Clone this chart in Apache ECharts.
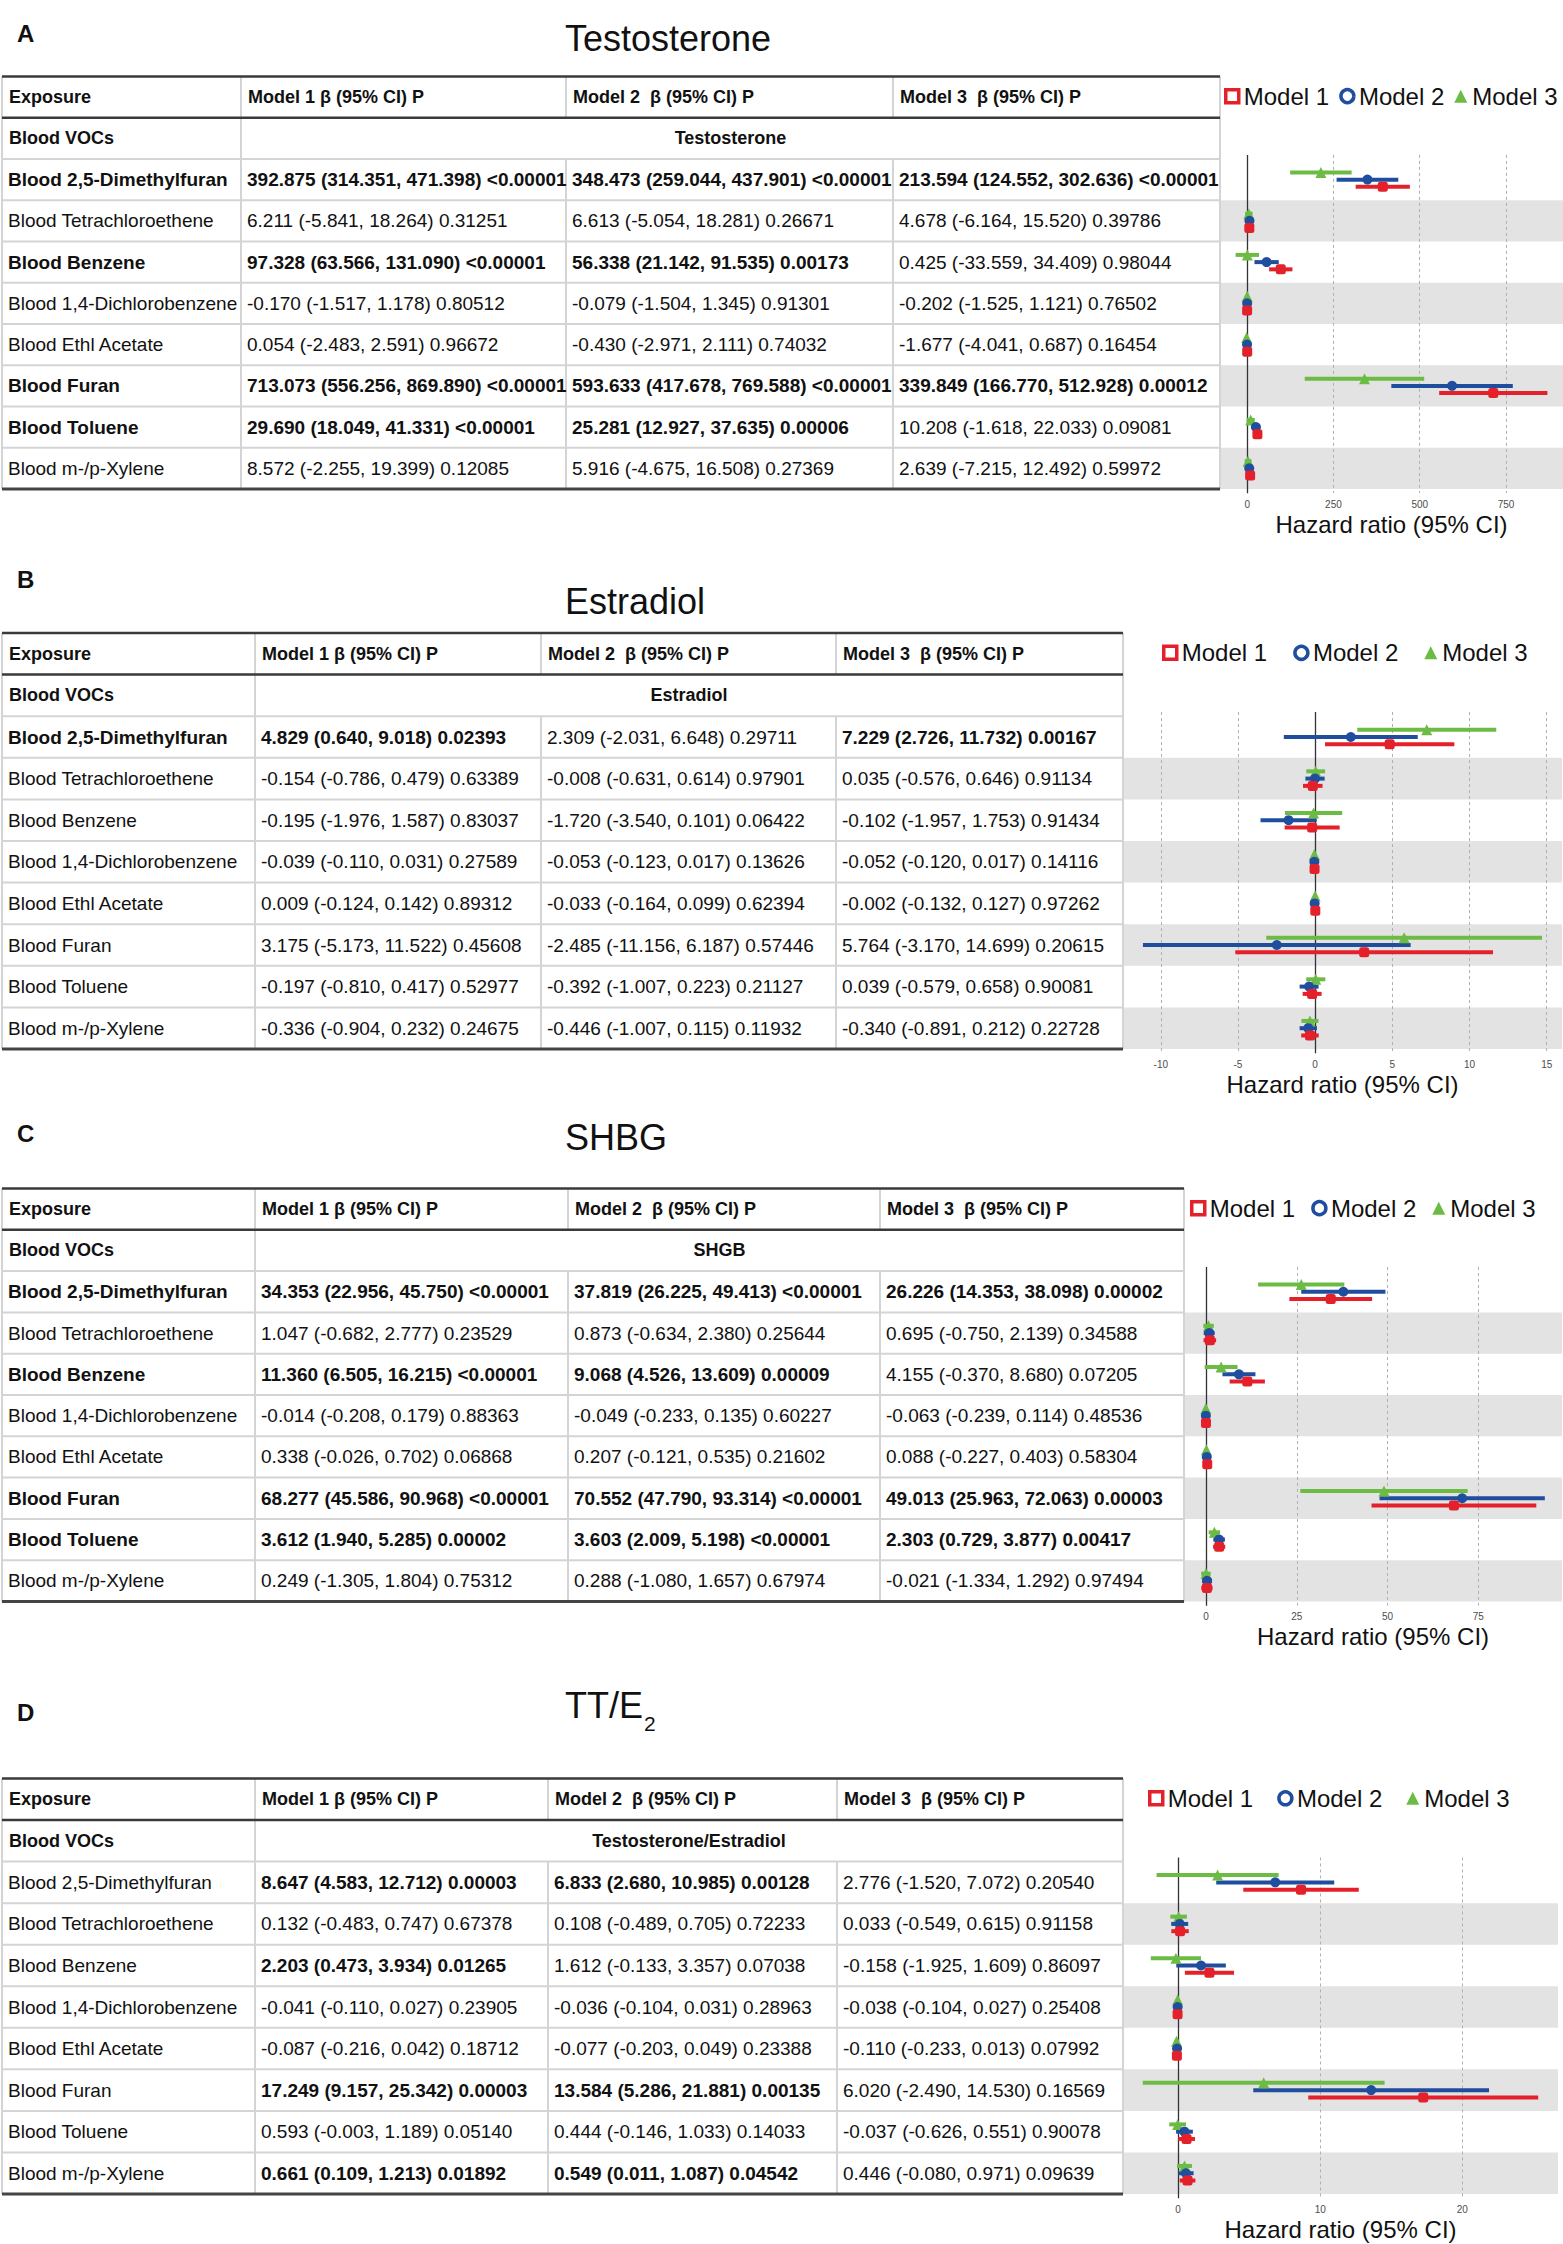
<!DOCTYPE html>
<html><head><meta charset="utf-8">
<script src="https://cdn.jsdelivr.net/npm/echarts@6/dist/echarts.min.js"></script>
<style>html,body{margin:0;padding:0;background:#fff}#chart{width:1563px;height:2244px}</style>
</head><body><div id="chart"></div>
<script>
// ---------------- DATA ----------------
const exposures = ['Blood 2,5-Dimethylfuran','Blood Tetrachloroethene','Blood Benzene','Blood 1,4-Dichlorobenzene','Blood Ethl Acetate','Blood Furan','Blood Toluene','Blood m-/p-Xylene'];
const modelNames = ['Model 1','Model 2','Model 3'];
const headerCells = ['Exposure','Model 1 β (95% CI) P','Model 2  β (95% CI) P','Model 3  β (95% CI) P'];
const groupLabel = 'Blood VOCs';
const axisTitle = 'Hazard ratio (95% CI)';
const panelLetters = ['A','B','C','D'];
const panelTitles = ['Testosterone','Estradiol','SHBG','TT/E'];
const panelTitleSubs = ['','','','2'];
const outcomeLabels = ['Testosterone','Estradiol','SHGB','Testosterone/Estradiol'];

// rows: [beta, lower, upper, p]
const testoM1 = [[392.875,314.351,471.398,'<0.00001'],[6.211,-5.841,18.264,'0.31251'],[97.328,63.566,131.090,'<0.00001'],[-0.170,-1.517,1.178,'0.80512'],[0.054,-2.483,2.591,'0.96672'],[713.073,556.256,869.890,'<0.00001'],[29.690,18.049,41.331,'<0.00001'],[8.572,-2.255,19.399,'0.12085']];
const testoM2 = [[348.473,259.044,437.901,'<0.00001'],[6.613,-5.054,18.281,'0.26671'],[56.338,21.142,91.535,'0.00173'],[-0.079,-1.504,1.345,'0.91301'],[-0.430,-2.971,2.111,'0.74032'],[593.633,417.678,769.588,'<0.00001'],[25.281,12.927,37.635,'0.00006'],[5.916,-4.675,16.508,'0.27369']];
const testoM3 = [[213.594,124.552,302.636,'<0.00001'],[4.678,-6.164,15.520,'0.39786'],[0.425,-33.559,34.409,'0.98044'],[-0.202,-1.525,1.121,'0.76502'],[-1.677,-4.041,0.687,'0.16454'],[339.849,166.770,512.928,'0.00012'],[10.208,-1.618,22.033,'0.09081'],[2.639,-7.215,12.492,'0.59972']];
const estraM1 = [[4.829,0.640,9.018,'0.02393'],[-0.154,-0.786,0.479,'0.63389'],[-0.195,-1.976,1.587,'0.83037'],[-0.039,-0.110,0.031,'0.27589'],[0.009,-0.124,0.142,'0.89312'],[3.175,-5.173,11.522,'0.45608'],[-0.197,-0.810,0.417,'0.52977'],[-0.336,-0.904,0.232,'0.24675']];
const estraM2 = [[2.309,-2.031,6.648,'0.29711'],[-0.008,-0.631,0.614,'0.97901'],[-1.720,-3.540,0.101,'0.06422'],[-0.053,-0.123,0.017,'0.13626'],[-0.033,-0.164,0.099,'0.62394'],[-2.485,-11.156,6.187,'0.57446'],[-0.392,-1.007,0.223,'0.21127'],[-0.446,-1.007,0.115,'0.11932']];
const estraM3 = [[7.229,2.726,11.732,'0.00167'],[0.035,-0.576,0.646,'0.91134'],[-0.102,-1.957,1.753,'0.91434'],[-0.052,-0.120,0.017,'0.14116'],[-0.002,-0.132,0.127,'0.97262'],[5.764,-3.170,14.699,'0.20615'],[0.039,-0.579,0.658,'0.90081'],[-0.340,-0.891,0.212,'0.22728']];
const shbgM1 = [[34.353,22.956,45.750,'<0.00001'],[1.047,-0.682,2.777,'0.23529'],[11.360,6.505,16.215,'<0.00001'],[-0.014,-0.208,0.179,'0.88363'],[0.338,-0.026,0.702,'0.06868'],[68.277,45.586,90.968,'<0.00001'],[3.612,1.940,5.285,'0.00002'],[0.249,-1.305,1.804,'0.75312']];
const shbgM2 = [[37.819,26.225,49.413,'<0.00001'],[0.873,-0.634,2.380,'0.25644'],[9.068,4.526,13.609,'0.00009'],[-0.049,-0.233,0.135,'0.60227'],[0.207,-0.121,0.535,'0.21602'],[70.552,47.790,93.314,'<0.00001'],[3.603,2.009,5.198,'<0.00001'],[0.288,-1.080,1.657,'0.67974']];
const shbgM3 = [[26.226,14.353,38.098,'0.00002'],[0.695,-0.750,2.139,'0.34588'],[4.155,-0.370,8.680,'0.07205'],[-0.063,-0.239,0.114,'0.48536'],[0.088,-0.227,0.403,'0.58304'],[49.013,25.963,72.063,'0.00003'],[2.303,0.729,3.877,'0.00417'],[-0.021,-1.334,1.292,'0.97494']];
const ratioM1 = [[8.647,4.583,12.712,'0.00003'],[0.132,-0.483,0.747,'0.67378'],[2.203,0.473,3.934,'0.01265'],[-0.041,-0.110,0.027,'0.23905'],[-0.087,-0.216,0.042,'0.18712'],[17.249,9.157,25.342,'0.00003'],[0.593,-0.003,1.189,'0.05140'],[0.661,0.109,1.213,'0.01892']];
const ratioM2 = [[6.833,2.680,10.985,'0.00128'],[0.108,-0.489,0.705,'0.72233'],[1.612,-0.133,3.357,'0.07038'],[-0.036,-0.104,0.031,'0.28963'],[-0.077,-0.203,0.049,'0.23388'],[13.584,5.286,21.881,'0.00135'],[0.444,-0.146,1.033,'0.14033'],[0.549,0.011,1.087,'0.04542']];
const ratioM3 = [[2.776,-1.520,7.072,'0.20540'],[0.033,-0.549,0.615,'0.91158'],[-0.158,-1.925,1.609,'0.86097'],[-0.038,-0.104,0.027,'0.25408'],[-0.110,-0.233,0.013,'0.07992'],[6.020,-2.490,14.530,'0.16569'],[-0.037,-0.626,0.551,'0.90078'],[0.446,-0.080,0.971,'0.09639']];

// exposure names printed in bold (row indices)
const testoBoldRows = [0,2,5,6];
const estraBoldRows = [0];
const shbgBoldRows = [0,2,5,6];
const ratioBoldRows = [];

const testoTicks = [0,250,500,750];
const estraTicks = [-10,-5,0,5,10,15];
const shbgTicks = [0,25,50,75];
const ratioTicks = [0,10,20];

// ---------------- LAYOUT / STYLE ----------------
const FONT = '"Liberation Sans", Arial, Helvetica, sans-serif';
const COLORS = ['#E4202A','#1F4E9F','#6CBB45'];
const SYMBOLS = ['roundRect','circle','triangle'];
const OFFSETS = [0.175, 0, -0.175];
const CELL_FONT = 19, HEAD_FONT = 18;
const layouts = [
  {top:76.5, rowH:41.25, cols:[2,241,566,893,1220], plotRight:1563, labelY:33, titleY:38, legendLeft:1224, legendGap:10},
  {top:633, rowH:41.6, cols:[2,255,541,836,1123], plotRight:1562, labelY:579, titleY:601, legendLeft:1162, legendGap:26},
  {top:1188.5, rowH:41.3, cols:[2,255,568,880,1184], plotRight:1562, labelY:1133, titleY:1137, legendLeft:1190, legendGap:16},
  {top:1778.5, rowH:41.55, cols:[2,255,548,837,1123], plotRight:1558, labelY:1712, titleY:1705, legendLeft:1148, legendGap:24}
];
const panels = [
  {models:[testoM1,testoM2,testoM3], boldRows:testoBoldRows, ticks:testoTicks},
  {models:[estraM1,estraM2,estraM3], boldRows:estraBoldRows, ticks:estraTicks},
  {models:[shbgM1,shbgM2,shbgM3], boldRows:shbgBoldRows, ticks:shbgTicks},
  {models:[ratioM1,ratioM2,ratioM3], boldRows:ratioBoldRows, ticks:ratioTicks}
];

const measureCtx = document.createElement('canvas').getContext('2d');
function textWidth(t, font){ measureCtx.font = font; return measureCtx.measureText(t).width; }

function txt(x, y, text, extra){
  return {type:'text', x:x, y:y, silent:true, z:10,
    style:Object.assign({text:text, fill:'#111', fontSize:CELL_FONT, fontFamily:FONT, fontWeight:'normal',
      align:'left', textAlign:'left', verticalAlign:'middle', textVerticalAlign:'middle'}, extra || {})};
}
function ln(x1, y1, x2, y2, stroke, w){
  return {type:'line', silent:true, z:9, shape:{x1:x1,y1:y1,x2:x2,y2:y2}, style:{stroke:stroke, lineWidth:w}};
}
function fmtCell(r){
  return r[0].toFixed(3) + ' (' + r[1].toFixed(3) + ', ' + r[2].toFixed(3) + ') ' + r[3];
}
function isSig(r){ return r[3].charAt(0) === '<' || parseFloat(r[3]) < 0.05; }

const option = {animation:false, backgroundColor:'#fff', grid:[], xAxis:[], yAxis:[], series:[], legend:[], graphic:{elements:[]}};
const G = option.graphic.elements;
const LIGHT = '#d4d4d4', DARK = '#3a3a3a';

panels.forEach(function(p, pi){
  const L = layouts[pi];
  const c = L.cols, top = L.top, rh = L.rowH;
  const bottom = top + 10*rh;
  // ---- labels and titles
  G.push(txt(17, L.labelY, panelLetters[pi], {fontSize:24, fontWeight:'bold'}));
  G.push(txt(565, L.titleY, panelTitles[pi], {fontSize:36}));
  if (panelTitleSubs[pi]) {
    const w = textWidth(panelTitles[pi], '36px ' + FONT);
    G.push(txt(565 + w + 1, L.titleY + 18, panelTitleSubs[pi], {fontSize:21}));
  }
  // ---- table lines (light first)
  [c[0], c[1], c[4]].forEach(function(x){ G.push(ln(x, top, x, bottom, LIGHT, 2)); });
  [c[2], c[3]].forEach(function(x){
    G.push(ln(x, top, x, top + rh, LIGHT, 2));
    G.push(ln(x, top + 2*rh, x, bottom, LIGHT, 2));
  });
  for (let k = 2; k < 10; k++) G.push(ln(c[0], top + k*rh, c[4], top + k*rh, LIGHT, 2));
  G.push(ln(c[0], top, c[4], top, DARK, 2.5));
  G.push(ln(c[0], top + rh, c[4], top + rh, DARK, 2.5));
  G.push(ln(c[0], bottom, c[4], bottom, '#444', 3));
  // ---- table text
  headerCells.forEach(function(h, j){ G.push(txt(c[j] + 7, top + rh/2, h, {fontWeight:'bold', fontSize:HEAD_FONT})); });
  G.push(txt(c[0] + 7, top + 1.5*rh, groupLabel, {fontWeight:'bold', fontSize:HEAD_FONT}));
  G.push(txt((c[1] + c[4])/2, top + 1.5*rh, outcomeLabels[pi], {fontWeight:'bold', fontSize:HEAD_FONT, align:'center', textAlign:'center'}));
  exposures.forEach(function(name, i){
    const yc = top + (i + 2.5)*rh;
    G.push(txt(c[0] + 6, yc, name, {fontWeight: p.boldRows.indexOf(i) >= 0 ? 'bold' : 'normal'}));
    p.models.forEach(function(m, j){
      G.push(txt(c[j+1] + 6, yc, fmtCell(m[i]), {fontWeight: isSig(m[i]) ? 'bold' : 'normal'}));
    });
  });

  // ---- forest plot
  let lo = Infinity, hi = -Infinity;
  p.models.forEach(function(m){ m.forEach(function(r){ lo = Math.min(lo, r[1]); hi = Math.max(hi, r[2]); }); });
  const pad = (hi - lo) * 0.05;
  option.grid.push({left:c[4], top:top + 1.9*rh, width:L.plotRight - c[4], height:8.2*rh});
  option.xAxis.push({type:'value', gridIndex:pi, min:lo - pad, max:hi + pad,
    axisLine:{show:false}, axisTick:{show:false, customValues:p.ticks}, splitLine:{show:false},
    axisLabel:{customValues:p.ticks, fontSize:10, color:'#4d4d4d', fontFamily:FONT, margin:6},
    name:axisTitle, nameLocation:'middle', nameGap:19,
    nameTextStyle:{fontSize:24, color:'#111', fontFamily:FONT}});
  option.yAxis.push({type:'value', gridIndex:pi, min:-0.6, max:7.6, inverse:true, show:false});

  const bands = [];
  for (let i = 1; i < 8; i += 2) bands.push([{yAxis:i - 0.5}, {yAxis:i + 0.5}]);
  const vlines = [{xAxis:0, lineStyle:{color:'#333', type:'solid', width:1.3}}];
  p.ticks.forEach(function(t){ if (t !== 0) vlines.push({xAxis:t, lineStyle:{color:'#b0b0b0', type:[3,3], width:1}}); });

  [2,1,0].forEach(function(j){
    const color = COLORS[j];
    const s = {
      type:'custom', name:modelNames[j], xAxisIndex:pi, yAxisIndex:pi, z:2,
      encode:{x:[0,1], y:2},
      data:p.models[j].map(function(r, i){ return [r[1], r[2], i + OFFSETS[j]]; }),
      renderItem:function(params, api){
        const a = api.coord([api.value(0), api.value(2)]);
        const b = api.coord([api.value(1), api.value(2)]);
        return {type:'line', shape:{x1:a[0], y1:a[1], x2:b[0], y2:b[1]}, style:{stroke:color, lineWidth:4}};
      }
    };
    if (j === 2) {
      s.markArea = {silent:true, z:0, itemStyle:{color:'#e3e3e3'}, label:{show:false}, data:bands};
      s.markLine = {silent:true, z:1, symbol:['none','none'], label:{show:false}, data:vlines};
    }
    option.series.push(s);
  });
  [2,1,0].forEach(function(j){
    option.series.push({
      type:'scatter', name:modelNames[j], xAxisIndex:pi, yAxisIndex:pi, z:3,
      symbol:SYMBOLS[j], symbolSize: j === 2 ? 11 : 10,
      itemStyle:{color:COLORS[j], opacity:1},
      data:p.models[j].map(function(r, i){ return [r[0], i + OFFSETS[j]]; })
    });
  });

  option.legend.push({
    left:L.legendLeft, top:top + rh/2 - 13, padding:0, itemGap:L.legendGap, itemWidth:13, itemHeight:13,
    selectedMode:false, textStyle:{fontSize:24, color:'#111', fontFamily:FONT},
    data:[
      {name:'Model 1', icon:'rect', itemStyle:{color:'#fff', borderColor:COLORS[0], borderWidth:3.5}},
      {name:'Model 2', icon:'circle', itemStyle:{color:'#fff', borderColor:COLORS[1], borderWidth:3.5}},
      {name:'Model 3', icon:'triangle', itemStyle:{color:COLORS[2], borderWidth:0}}
    ]
  });
});

const chart = echarts.init(document.getElementById('chart'), null, {renderer:'svg'});
chart.setOption(option);
</script></body></html>
